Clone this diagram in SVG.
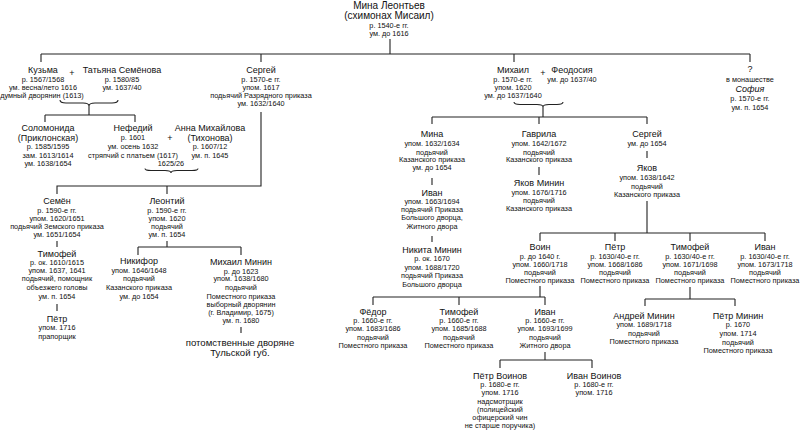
<svg xmlns="http://www.w3.org/2000/svg" width="800" height="430" viewBox="0 0 800 430">
<style>
text{font-family:"Liberation Sans",Arial,sans-serif;fill:#111;text-anchor:middle}
.n{font-size:9px}
.d{font-size:7.3px}
.r{font-size:10px}
.p{font-size:9.6px}
.i{font-style:italic}
.c{fill:none;stroke:#222;stroke-width:1.1}
</style>
<rect width="800" height="430" fill="#fff"/>
<g id="connectors" class="c">
<path d="M390 39V54M41 54H750M41 54V62M261 54V62M514 54V62M750 54V62"/>
<path d="M60 100Q60 103 66 103L83 103Q89 103 89 106Q89 103 95 103L112 103Q118 103 118 100M89 106V115M45 115H135M45 115V122M135 115V122"/>
<path d="M145 168.5Q145 170.5 151 170.5L165 170.5Q171 170.5 171 173Q171 170.5 177 170.5L192 170.5Q198 170.5 198 168.5"/>
<path d="M514 102Q514 104.5 520 104.5L537 104.5Q543 104.5 543 107Q543 104.5 549 104.5L557 104.5Q563 104.5 563 102M543 107V117M432 117H647M432 117V124M539 117V124M647 117V124"/>
<path d="M261 112V186H57V194M167 186V194M57 241V247M57 304V311M167 241V247M138 247H241M138 247V255M241 247V255M241 327V333"/>
<path d="M432 178V185M432 236V242M539 167V175M647 151V158M647 201V233M540 233H765M540 233V241M615 233V241M690 233V241M765 233V241"/>
<path d="M540 286V297M373 297H545M373 297V305M459 297V305M545 297V305M545 352V360M500 360H592M500 360V368M592 360V368M690 287V299M645 299H735M645 299V306M735 299V306"/>
</g>
<g id="mina-root"><text class="r" x="389" y="9">Мина Леонтьев</text><text class="r" x="389" y="19">(схимонах Мисаил)</text><text class="d" x="389" y="28">р. 1540-е гг.</text><text class="d" x="389" y="36">ум. до 1616</text></g>
<g id="kuzma"><text class="n" x="43" y="73">Кузьма</text><text class="d" x="43" y="82">р. 1567/1568</text><text class="d" x="43" y="90">ум. весна/лето 1616</text><text class="d" x="42" y="98">думный дворянин (1613)</text></g>
<g id="plus1"><text class="n" x="72" y="76">+</text></g>
<g id="tatiana"><text class="n" x="122" y="73">Татьяна Семёнова</text><text class="d" x="122" y="82">р. 1580/85</text><text class="d" x="122" y="90">ум. 1637/40</text></g>
<g id="sergei1"><text class="n" x="261" y="73">Сергей</text><text class="d" x="261" y="82">р. 1570-е гг.</text><text class="d" x="261" y="90">упом. 1617</text><text class="d" x="261" y="98">подьячий Разрядного приказа</text><text class="d" x="261" y="106">ум. 1632/1640</text></g>
<g id="mikhail"><text class="n" x="513" y="73">Михаил</text><text class="d" x="513" y="82">р. 1570-е гг.</text><text class="d" x="513" y="90">упом. 1620</text><text class="d" x="513" y="98">ум. до 1637/1640</text></g>
<g id="plus2"><text class="n" x="543" y="76">+</text></g>
<g id="feodosia"><text class="n" x="572" y="73">Феодосия</text><text class="d" x="572" y="82">ум. до 1637/40</text></g>
<g id="sofia"><text class="n" x="750" y="72">?</text><text class="d" x="750" y="82">в монашестве</text><text class="n i" x="750" y="92">София</text><text class="d" x="750" y="101">р. 1570-е гг.</text><text class="d" x="750" y="110">ум. п. 1654</text></g>
<g id="solomonida"><text class="n" x="48" y="131">Соломонида</text><text class="n" x="48" y="141">(Приклонская)</text><text class="d" x="48" y="149">р. 1585/1595</text><text class="d" x="48" y="158">зам. 1613/1614</text><text class="d" x="48" y="166">ум. 1638/1654</text></g>
<g id="nefedii"><text class="n" x="133" y="131">Нефедий</text><text class="d" x="133" y="140">р. 1601</text><text class="d" x="133" y="149">ум. осень 1632</text><text class="d" x="133" y="158">стряпчий с платьем (1617)</text><text class="d" x="171" y="166">1625/26</text></g>
<g id="plus3"><text class="n" x="170" y="141">+</text></g>
<g id="anna"><text class="n" x="210" y="131">Анна Михайлова</text><text class="n" x="210" y="141">(Тихонова)</text><text class="d" x="210" y="149">р. 1607/12</text><text class="d" x="210" y="158">ум. п. 1645</text></g>
<g id="semen"><text class="n" x="57" y="204">Семён</text><text class="d" x="57" y="213">р. 1590-е гг.</text><text class="d" x="57" y="221">упом. 1620/1651</text><text class="d" x="57" y="229">подьячий Земского приказа</text><text class="d" x="57" y="237">ум. 1651/1654</text></g>
<g id="timofei1"><text class="n" x="57" y="257">Тимофей</text><text class="d" x="57" y="265">р. ок. 1610/1615</text><text class="d" x="57" y="273">упом. 1637, 1641</text><text class="d" x="57" y="281">подьячий, помощник</text><text class="d" x="57" y="290">объезжего головы</text><text class="d" x="57" y="299">ум. п. 1654</text></g>
<g id="petr1"><text class="n" x="57" y="322">Пётр</text><text class="d" x="57" y="330">упом. 1716</text><text class="d" x="57" y="339">прапорщик</text></g>
<g id="leontii"><text class="n" x="167" y="204">Леонтий</text><text class="d" x="167" y="213">р. 1590-е гг.</text><text class="d" x="167" y="221">упом. 1620</text><text class="d" x="167" y="229">подьячий</text><text class="d" x="167" y="237">ум. п. 1654</text></g>
<g id="nikifor"><text class="n" x="139" y="264">Никифор</text><text class="d" x="139" y="273">упом. 1646/1648</text><text class="d" x="139" y="281">подьячий</text><text class="d" x="139" y="290">Казанского приказа</text><text class="d" x="139" y="299">ум. до 1654</text></g>
<g id="mikhail-minin"><text class="n" x="241" y="265">Михаил Минин</text><text class="d" x="241" y="273.5">р. до 1623</text><text class="d" x="241" y="281">упом. 1638/1680</text><text class="d" x="241" y="290">подьячий</text><text class="d" x="241" y="299">Поместного приказа</text><text class="d" x="241" y="307">выборный дворянин</text><text class="d" x="241" y="315">(г. Владимир, 1675)</text><text class="d" x="241" y="323">ум. п. 1680</text></g>
<g id="tula"><text class="p" x="240" y="346">потомственные дворяне</text><text class="p" x="240" y="356">Тульской губ.</text></g>
<g id="mina2"><text class="n" x="432" y="137">Мина</text><text class="d" x="432" y="146">упом. 1632/1634</text><text class="d" x="432" y="154.5">подьячий</text><text class="d" x="432" y="162">Казанского приказа</text><text class="d" x="432" y="170">ум. до 1654</text></g>
<g id="ivan1"><text class="n" x="432" y="196">Иван</text><text class="d" x="432" y="204">упом. 1663/1694</text><text class="d" x="432" y="212">подьячий Приказа</text><text class="d" x="432" y="220">Большого дворца,</text><text class="d" x="432" y="229">Житного двора</text></g>
<g id="nikita"><text class="n" x="432" y="253">Никита Минин</text><text class="d" x="432" y="261">р. ок. 1670</text><text class="d" x="432" y="270">упом. 1688/1720</text><text class="d" x="432" y="278">подьячий Приказа</text><text class="d" x="432" y="287">Большого дворца</text></g>
<g id="gavrila"><text class="n" x="539" y="137">Гаврила</text><text class="d" x="539" y="146">упом. 1642/1672</text><text class="d" x="539" y="154.5">подьячий</text><text class="d" x="539" y="162">Казанского приказа</text></g>
<g id="yakov-minin"><text class="n" x="539" y="186">Яков Минин</text><text class="d" x="539" y="195">упом. 1676/1716</text><text class="d" x="539" y="203">подьячий</text><text class="d" x="539" y="211">Казанского приказа</text></g>
<g id="sergei2"><text class="n" x="647" y="137">Сергей</text><text class="d" x="647" y="146">ум. до 1654</text></g>
<g id="yakov"><text class="n" x="647" y="171">Яков</text><text class="d" x="647" y="180">упом. 1638/1642</text><text class="d" x="647" y="189">подьячий</text><text class="d" x="647" y="197">Казанского приказа</text></g>
<g id="voin"><text class="n" x="540" y="250">Воин</text><text class="d" x="540" y="259">р. до 1640 г.</text><text class="d" x="540" y="267">упом. 1660/1718</text><text class="d" x="540" y="275">подьячий</text><text class="d" x="540" y="283">Поместного приказа</text></g>
<g id="petr2"><text class="n" x="615" y="250">Пётр</text><text class="d" x="615" y="259">р. 1630/40-е гг.</text><text class="d" x="615" y="267">упом. 1668/1686</text><text class="d" x="615" y="275">подьячий</text><text class="d" x="615" y="283">Поместного приказа</text></g>
<g id="timofei2"><text class="n" x="690" y="250">Тимофей</text><text class="d" x="690" y="259">р. 1630/40-е гг.</text><text class="d" x="690" y="267">упом. 1671/1698</text><text class="d" x="690" y="275">подьячий</text><text class="d" x="690" y="283">Поместного приказа</text></g>
<g id="ivan2"><text class="n" x="765" y="250">Иван</text><text class="d" x="765" y="259">р. 1630/40-е гг.</text><text class="d" x="765" y="267">упом. 1673/1718</text><text class="d" x="765" y="275">подьячий</text><text class="d" x="765" y="283">Поместного приказа</text></g>
<g id="fedor"><text class="n" x="373" y="315">Фёдор</text><text class="d" x="373" y="323">р. 1660-е гг.</text><text class="d" x="373" y="331">упом. 1683/1686</text><text class="d" x="373" y="340">подьячий</text><text class="d" x="373" y="348">Поместного приказа</text></g>
<g id="timofei3"><text class="n" x="459" y="315">Тимофей</text><text class="d" x="459" y="323">р. 1660-е гг.</text><text class="d" x="459" y="331">упом. 1685/1688</text><text class="d" x="459" y="340">подьячий</text><text class="d" x="459" y="348">Поместного приказа</text></g>
<g id="ivan3"><text class="n" x="545" y="315">Иван</text><text class="d" x="545" y="323">р. 1660-е гг.</text><text class="d" x="545" y="331">упом. 1693/1699</text><text class="d" x="545" y="340">подьячий</text><text class="d" x="545" y="348">Житного двора</text></g>
<g id="petr-voinov"><text class="n" x="500" y="379">Пётр Воинов</text><text class="d" x="500" y="387">р. 1680-е гг.</text><text class="d" x="500" y="395">упом. 1716</text><text class="d" x="500" y="404">надсмотрщик</text><text class="d" x="500" y="412">(полицейский</text><text class="d" x="500" y="420">офицерский чин</text><text class="d" x="500" y="428">не старше поручика)</text></g>
<g id="ivan-voinov"><text class="n" x="594" y="379">Иван Воинов</text><text class="d" x="594" y="387">р. 1680-е гг.</text><text class="d" x="594" y="395">упом. 1716</text></g>
<g id="andrei-minin"><text class="n" x="644" y="319">Андрей Минин</text><text class="d" x="644" y="327">упом. 1689/1718</text><text class="d" x="644" y="336">подьячий</text><text class="d" x="644" y="344">Поместного приказа</text></g>
<g id="petr-minin"><text class="n" x="738" y="319">Пётр Минин</text><text class="d" x="738" y="327">р. 1670</text><text class="d" x="738" y="336">упом. 1714</text><text class="d" x="738" y="345">подьячий</text><text class="d" x="738" y="353">Поместного приказа</text></g>
</svg>
